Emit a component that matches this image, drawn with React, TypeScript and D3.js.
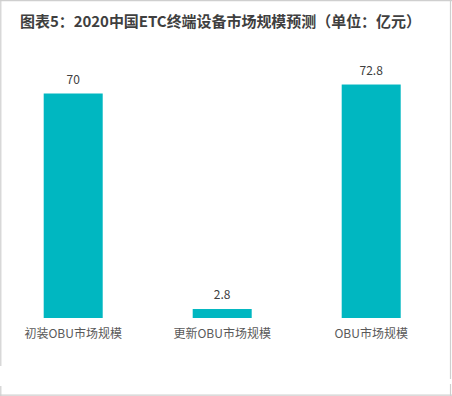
import React, { useEffect, useRef } from "react";
import * as d3 from "d3";

const categories = ["初装OBU市场规模", "更新OBU市场规模", "OBU市场规模"];
const values = [70, 2.8, 72.8];
const valueLabels = ["70", "2.8", "72.8"];
const title = "图表5：2020中国ETC终端设备市场规模预测（单位：亿元）";

const W = 452;
const H = 396;
const FONT = "'Microsoft YaHei', 'Noto Sans CJK SC', 'Noto Sans', sans-serif";

const App = () => {
  const ref = useRef<SVGSVGElement>(null);

  useEffect(() => {
    document.body.style.margin = "0";
    const svg = d3.select(ref.current);
    svg.selectAll("*").remove();

    svg.append("rect").attr("width", W).attr("height", H).attr("fill", "#fff");

    // frame (left edge has a small gap near the bottom, like the source image)
    const frame = svg.append("g").attr("stroke", "#cfcfcf").attr("stroke-width", 1.2);
    frame.append("line").attr("x1", 0).attr("x2", W).attr("y1", 0.6).attr("y2", 0.6);
    frame.append("line").attr("x1", 0).attr("x2", W).attr("y1", H - 0.8).attr("y2", H - 0.8);
    frame.append("line").attr("x1", 0.8).attr("x2", 0.8).attr("y1", 0).attr("y2", 366);
    frame.append("line").attr("x1", 0.8).attr("x2", 0.8).attr("y1", 386).attr("y2", H);
    frame.append("line").attr("x1", W - 1.5).attr("x2", W - 1.5).attr("y1", 0).attr("y2", 379);
    frame.append("line").attr("x1", W - 1.5).attr("x2", W - 1.5).attr("y1", 384).attr("y2", H);

    svg.append("text")
      .attr("x", 20)
      .attr("y", 27)
      .attr("font-family", FONT)
      .attr("font-size", 15)
      .attr("font-weight", "bold")
      .attr("fill", "#3f3f3f")
      .attr("textLength", 401)
      .attr("lengthAdjust", "spacing")
      .text(title);

    const baseY = 318;
    const x = d3.scaleBand<string>()
      .domain(categories)
      .range([-1.3, 445.7])
      .paddingInner(0.604)
      .paddingOuter(0.302);

    const y = d3.scaleLinear().domain([0, 70]).range([baseY, 93.5]);

    const g = svg.append("g");

    g.selectAll(".bar")
      .data(values)
      .enter()
      .append("rect")
      .attr("class", "bar")
      .attr("x", (d, i) => x(categories[i])!)
      .attr("width", x.bandwidth())
      .attr("y", d => y(d))
      .attr("height", d => baseY - y(d))
      .attr("fill", "#00b7c1");

    g.selectAll(".val")
      .data(values)
      .enter()
      .append("text")
      .attr("x", (d, i) => x(categories[i])! + x.bandwidth() / 2)
      .attr("y", d => y(d) - 10)
      .attr("text-anchor", "middle")
      .attr("font-family", FONT)
      .attr("font-size", 12)
      .attr("fill", "#404040")
      .text((d, i) => valueLabels[i]);

    g.selectAll(".cat")
      .data(categories)
      .enter()
      .append("text")
      .attr("x", d => x(d)! + x.bandwidth() / 2)
      .attr("y", 337.5)
      .attr("text-anchor", "middle")
      .attr("font-family", FONT)
      .attr("font-size", 12)
      .attr("fill", "#595959")
      .text(d => d);
  }, []);

  return <svg ref={ref} width={W} height={H} style={{ display: "block" }} />;
};

export default App;
